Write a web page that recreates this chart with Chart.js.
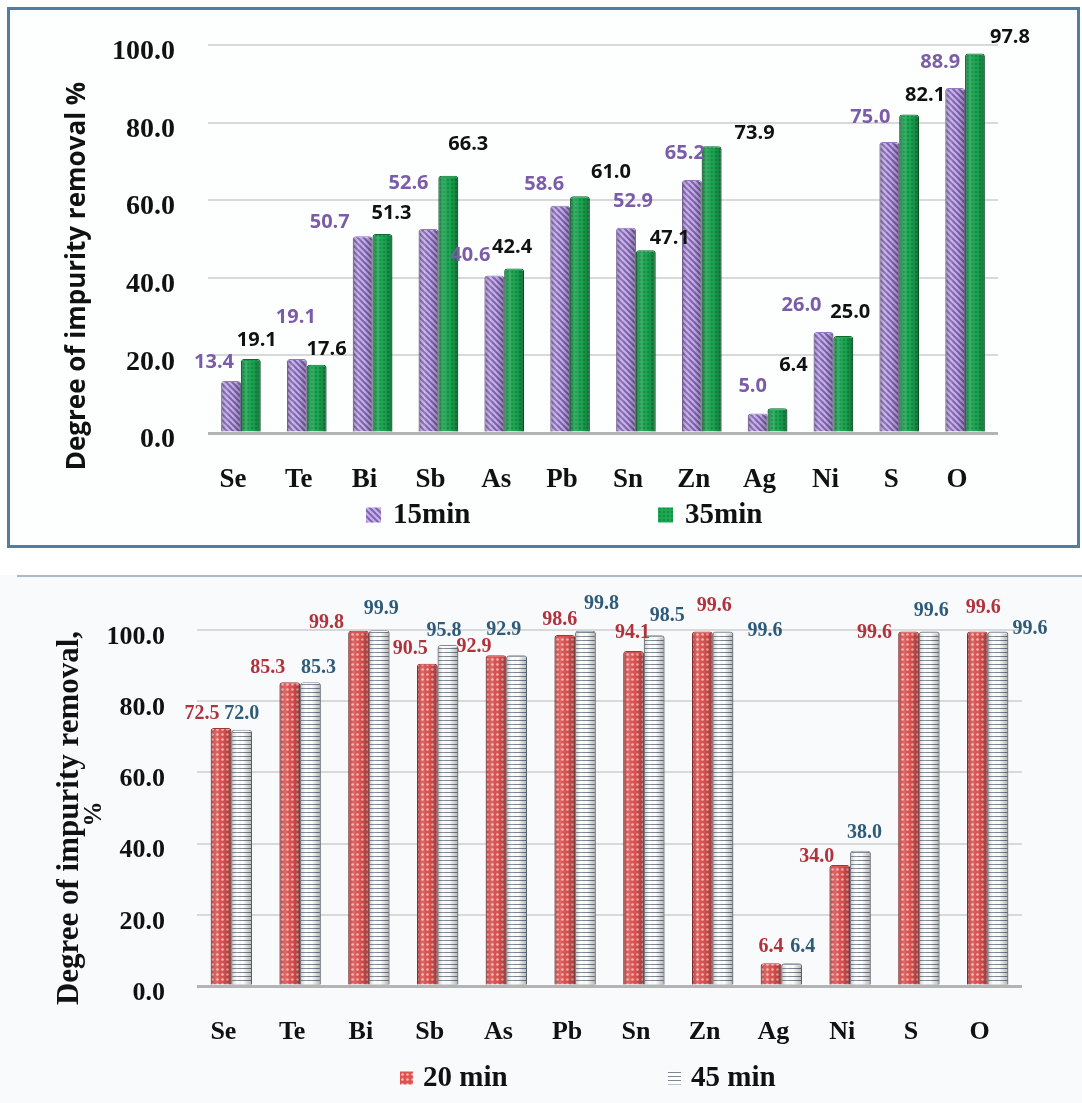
<!DOCTYPE html>
<html>
<head>
<meta charset="utf-8">
<script src="https://cdn.jsdelivr.net/npm/chart.js@4.4.1/dist/chart.umd.min.js"></script>
<style>
html, body { margin: 0; padding: 0; background: #fff; width: 1082px; height: 1103px; overflow: hidden; }
#top-panel { position: absolute; left: 7px; top: 7px; width: 1073px; height: 541px; box-sizing: border-box; border: 3px solid #547c9f; background: #fdfefe; }
#bottom-panel { position: absolute; left: 0; top: 575px; width: 1082px; height: 528px; background: #f8fafb; }
#bottom-panel::before { content: ''; position: absolute; left: 17px; right: 0; top: 0; height: 2px; background: #a9bccb; }
canvas { position: absolute; left: 0; top: 0; }
#bottom-panel canvas { top: 2px; }
</style>
</head>
<body>
<div id="top-panel"><canvas id="removal-short" width="1067" height="535"></canvas></div>
<div id="bottom-panel"><canvas id="removal-long" width="1082" height="526"></canvas></div>
<script>
const ELEMENTS = ['Se', 'Te', 'Bi', 'Sb', 'As', 'Pb', 'Sn', 'Zn', 'Ag', 'Ni', 'S', 'O'];
const Y_MIN = 0;
const Y_MAX = 100;
const Y_STEP = 20;

const SERIES_15 = [13.4, 19.1, 50.7, 52.6, 40.6, 58.6, 52.9, 65.2, 5.0, 26.0, 75.0, 88.9];
const SERIES_35 = [19.1, 17.6, 51.3, 66.3, 42.4, 61.0, 47.1, 73.9, 6.4, 25.0, 82.1, 97.8];
const SERIES_20 = [72.5, 85.3, 99.8, 90.5, 92.9, 98.6, 94.1, 99.6, 6.4, 34.0, 99.6, 99.6];
const SERIES_45 = [72.0, 85.3, 99.9, 95.8, 92.9, 99.8, 98.5, 99.6, 6.4, 38.0, 99.6, 99.6];

// value label placement relative to the top of each bar [dx, dy]
const NUDGE_15 = [[-17, -19], [-1, -42], [-33, -14], [-20, -46], [-24, -20], [-16, -21], [7, -26], [-7, -27], [-5, -27], [-22, -27], [-19, -25], [-15, -26]];
const NUDGE_35 = [[6, -19], [10, -15], [9, -21], [20, -31], [-2, -21], [31, -24], [24, -12], [43, -13], [16, -43], [7, -24], [16, -19], [35, -16]];
const NUDGE_20 = [[-19, -14], [-22, -15], [-32, -8], [-17, -15], [-22, -8], [-5, -15], [-1, -18], [12, -26], [0, -16], [-23, -8], [-34, 1], [6, -24]];
const NUDGE_45 = [[0, -16], [8, -15], [2, -22], [-4, -14], [-13, -25], [16, -27], [13, -20], [42, -1], [11, -16], [4, -18], [2, -21], [32, -3]];

const SERIF = "'Liberation Serif', 'Times New Roman', serif";
const SANS = "'Open Sans', 'Noto Sans', sans-serif";

function makePattern(size, paint) {
    const tile = document.createElement('canvas');
    tile.width = size;
    tile.height = size;
    const g = tile.getContext('2d');
    paint(g, size);
    return g.createPattern(tile, 'repeat');
}

const purpleHatch = makePattern(6, (g, s) => {
    g.fillStyle = '#c6b1e8';
    g.fillRect(0, 0, s, s);
    g.strokeStyle = '#8062b4';
    g.lineWidth = 2;
    [-s, 0, s].forEach(k => {
        g.beginPath();
        g.moveTo(-1, k - 1);
        g.lineTo(s + 1, k + s + 1);
        g.stroke();
    });
});

const greenDots = makePattern(4, (g, s) => {
    g.fillStyle = '#1ba853';
    g.fillRect(0, 0, s, s);
    g.fillStyle = '#127f3d';
    g.beginPath();
    g.arc(2, 2, 0.9, 0, Math.PI * 2);
    g.fill();
});

const redDots = makePattern(5, (g, s) => {
    g.fillStyle = '#dc5352';
    g.fillRect(0, 0, s, s);
    g.fillStyle = '#ffbab5';
    g.beginPath();
    g.arc(2.5, 2.5, 1.3, 0, Math.PI * 2);
    g.fill();
});

const greyStripes = makePattern(4, (g, s) => {
    g.fillStyle = '#ffffff';
    g.fillRect(0, 0, s, s);
    g.fillStyle = '#7c8896';
    g.fillRect(0, 3, s, 1);
});

// darker edges so the bars read as cylinders
const cylinderShade = {
    id: 'cylinderShade',
    afterDatasetsDraw(chart) {
        const { ctx } = chart;
        ctx.save();
        chart.data.datasets.forEach((ds, di) => {
            chart.getDatasetMeta(di).data.forEach(bar => {
                const left = bar.x - bar.width / 2;
                const g = ctx.createLinearGradient(left, 0, left + bar.width, 0);
                g.addColorStop(0, 'rgba(0,0,0,0.25)');
                g.addColorStop(0.3, 'rgba(255,255,255,0.12)');
                g.addColorStop(0.55, 'rgba(0,0,0,0)');
                g.addColorStop(1, 'rgba(0,0,0,0.3)');
                ctx.fillStyle = g;
                ctx.fillRect(left, bar.y + 2, bar.width, bar.base - bar.y - 2);
            });
        });
        ctx.restore();
    }
};

const valueLabels = {
    id: 'valueLabels',
    afterDatasetsDraw(chart, args, opts) {
        const { ctx } = chart;
        ctx.save();
        ctx.font = opts.font;
        ctx.textAlign = 'center';
        ctx.textBaseline = 'middle';
        chart.data.datasets.forEach((ds, di) => {
            ctx.fillStyle = ds.labelColor;
            chart.getDatasetMeta(di).data.forEach((bar, i) => {
                const [dx, dy] = ds.nudge[i];
                ctx.fillText(ds.data[i].toFixed(1), bar.x + dx, bar.y + dy);
            });
        });
        ctx.restore();
    }
};

const sideTitle = {
    id: 'sideTitle',
    afterDraw(chart, args, opts) {
        const { ctx } = chart;
        ctx.save();
        ctx.translate(opts.x, opts.y);
        ctx.rotate(-Math.PI / 2);
        ctx.fillStyle = '#111';
        ctx.textAlign = 'center';
        ctx.textBaseline = 'middle';
        opts.lines.forEach(line => {
            ctx.font = line.font;
            ctx.fillText(line.text, line.dx || 0, line.dy);
        });
        ctx.restore();
    }
};

const bottomLegend = {
    id: 'bottomLegend',
    afterDraw(chart, args, opts) {
        const { ctx } = chart;
        ctx.save();
        ctx.font = opts.font;
        ctx.textBaseline = 'middle';
        chart.data.datasets.forEach((ds, i) => {
            const x = opts.x[i];
            ctx.fillStyle = ds.backgroundColor;
            ctx.fillRect(x, opts.y - opts.box / 2, opts.box, opts.box);
            ctx.fillStyle = '#111';
            ctx.fillText(ds.label, x + opts.box + opts.gap, opts.y + 1);
        });
        ctx.restore();
    }
};

function barDataset(label, data, fill, border, labelColor, nudge) {
    return {
        label: label,
        data: data,
        backgroundColor: fill,
        borderColor: border,
        borderWidth: 1,
        borderRadius: { topLeft: 3, topRight: 3 },
        borderSkipped: 'bottom',
        labelColor: labelColor,
        nudge: nudge
    };
}

function buildConfig(datasets, s) {
    return {
        type: 'bar',
        data: { labels: ELEMENTS, datasets: datasets },
        options: {
            responsive: false,
            animation: false,
            devicePixelRatio: 1,
            layout: { autoPadding: false, padding: { left: 0, right: s.padRight, top: s.padTop, bottom: 0 } },
            datasets: { bar: { barPercentage: 1, categoryPercentage: 0.6 } },
            scales: {
                x: {
                    grid: { display: false },
                    border: { display: false },
                    ticks: {
                        color: '#111',
                        font: { family: SERIF, size: s.xFont, weight: 'bold' },
                        padding: s.xPad,
                        labelOffset: -8
                    },
                    afterFit(scale) { scale.height = s.xHeight; }
                },
                y: {
                    min: Y_MIN,
                    max: Y_MAX,
                    border: { display: false },
                    grid: {
                        // invisible tick marks hold the labels away from the plot
                        drawTicks: true,
                        tickLength: s.yPad,
                        tickColor: 'transparent',
                        color: ctx => ctx.tick.value === 0 ? '#b4b4b4' : '#d9d9d9',
                        lineWidth: ctx => ctx.tick.value === 0 ? 3 : 2
                    },
                    ticks: {
                        stepSize: Y_STEP,
                        color: '#111',
                        font: { family: SERIF, size: s.yFont, weight: 'bold' },
                        padding: 0,
                        labelOffset: 7,
                        callback: v => v.toFixed(1)
                    },
                    afterFit(scale) { scale.width = s.yWidth; }
                }
            },
            plugins: {
                legend: { display: false },
                tooltip: { enabled: false },
                valueLabels: { font: s.valueFont },
                sideTitle: s.title,
                bottomLegend: s.legend
            }
        },
        plugins: [cylinderShade, valueLabels, sideTitle, bottomLegend]
    };
}

new Chart(document.getElementById('removal-short'), buildConfig([
    barDataset('15min', SERIES_15, purpleHatch, '#9278c0', '#7b5ca9', NUDGE_15),
    barDataset('35min', SERIES_35, greenDots, '#0c6a31', '#111111', NUDGE_35)
], {
    padRight: 79, padTop: 35, xHeight: 112, xPad: 23, xFont: 27,
    yWidth: 198, yPad: 33, yFont: 28,
    valueFont: 'bold 20px ' + SANS,
    title: { x: 68, y: 266, lines: [{ text: 'Degree of impurity removal %', font: 'bold 26px ' + SANS, dy: 0 }] },
    legend: { x: [356, 648], y: 505, box: 15, gap: 12, font: 'bold 29px ' + SERIF }
}));

new Chart(document.getElementById('removal-long'), buildConfig([
    barDataset('20 min', SERIES_20, redDots, '#a33434', '#b1323b', NUDGE_20),
    barDataset('45 min', SERIES_45, greyStripes, '#7c8896', '#2f5b7b', NUDGE_45)
], {
    padRight: 60, padTop: 53, xHeight: 117, xPad: 23, xFont: 26,
    yWidth: 197, yPad: 32, yFont: 26,
    valueFont: 'bold 20px ' + SERIF,
    title: { x: 70, y: 241, lines: [
        { text: 'Degree of impurity removal,', font: 'bold 31px ' + SERIF, dy: 0 },
        { text: '%', font: 'bold 25px ' + SERIF, dx: 4, dy: 25 }
    ] },
    legend: { x: [400, 668], y: 501, box: 13, gap: 10, font: 'bold 29px ' + SERIF }
}));
</script>
</body>
</html>
